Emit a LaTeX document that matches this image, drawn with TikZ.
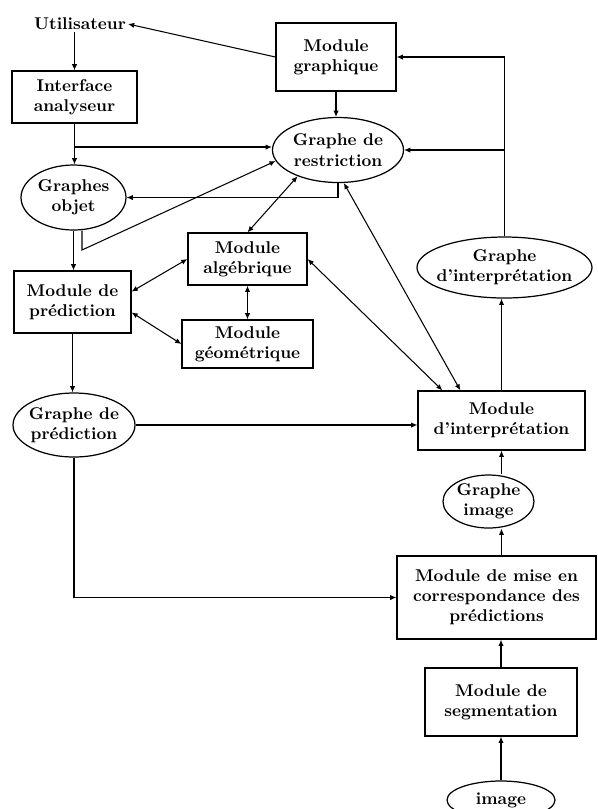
\documentclass[tikz,border=0pt]{standalone}
\usepackage{fontspec}
\usepackage{tikz}
\usetikzlibrary{shapes.geometric,arrows.meta,calc}
\tikzset{
  txt/.style={font=\fontsize{9.7}{11.5}\selectfont\bfseries,align=center},
  boite/.style={txt,draw,rectangle,inner sep=0pt,line width=0.7pt},
  graphe/.style={txt,draw,ellipse,inner sep=-4pt,line width=0.7pt},
  fleche/.style={line width=0.6pt,-{Latex[length=3.5pt,width=3pt]}},
  dfleche/.style={line width=0.6pt,{Latex[length=3.5pt,width=3pt]}-{Latex[length=3.5pt,width=3pt]}}
}

\begin{document}
\begin{tikzpicture}
\useasboundingbox (0,0) rectangle (11.96,-16.18);
% Modules
\node[txt,inner sep=1pt] (util) at (1.6,-0.48) {Utilisateur};
\node[boite,minimum width=2.5cm,minimum height=1.04cm] (iface) at (1.49,-1.94) {Interface\\analyseur};
\node[boite,minimum width=2.4cm,minimum height=1.36cm] (mgraph) at (6.72,-1.14) {Module\\graphique};
\node[boite,minimum width=2.38cm,minimum height=1.04cm] (malg) at (4.95,-5.18) {Module\\algébrique};
\node[boite,minimum width=2.62cm,minimum height=0.96cm] (mgeo) at (4.95,-6.88) {Module\\géométrique};
\node[boite,minimum width=2.34cm,minimum height=1.24cm] (mpred) at (1.45,-6.04) {Module de\\prédiction};
\node[boite,minimum width=3.34cm,minimum height=1.18cm] (minterp) at (10.03,-8.41) {Module\\d'interprétation};
\node[boite,minimum width=3.98cm,minimum height=1.66cm] (mmise) at (9.93,-11.95) {Module de mise en\\correspondance des\\prédictions};
\node[boite,minimum width=3.04cm,minimum height=1.36cm] (mseg) at (10.02,-14.04) {Module de\\segmentation};
% Graphes
\node[graphe,minimum width=2.62cm,minimum height=1.3cm] (grestr) at (6.76,-3.0) {Graphe de\\restriction};
\node[graphe,minimum width=2.1cm,minimum height=1.3cm] (gobj) at (1.47,-3.95) {Graphes\\objet};
\node[graphe,minimum width=2.44cm,minimum height=1.28cm] (gpred) at (1.48,-8.5) {Graphe de\\prédiction};
\node[graphe,minimum width=3.5cm,minimum height=1.22cm] (ginterp) at (10.09,-5.35) {Graphe\\d'interprétation};
\node[graphe,minimum width=1.82cm,minimum height=1.06cm] (gimage) at (9.77,-10.03) {Graphe\\image};
\node[graphe,minimum width=2.16cm,minimum height=0.76cm] (img) at (10.02,-16.0) {image};
% Points de branchement
\coordinate (b1) at (1.49,-2.94);
\coordinate (c1) at (1.64,-5.0);
% Liaisons du haut
\draw[fleche] (util.south -| iface.north) -- (iface.north);
\draw[fleche] (mgraph.west) -- (util.east);
\draw[fleche] (mgraph.south) -- (mgraph.south |- grestr.north);
\draw[fleche] (iface.south) -- (iface.south |- gobj.north);
\draw[fleche] (b1) -- (b1 -| grestr.west);
\draw[fleche] (grestr.south) |- (gobj.east);
\draw[fleche] (gobj.south) -- (gobj.south |- mpred.north);
\draw[fleche] (gobj.south -| c1) -- (c1) -- (grestr.190);
\draw[fleche] (ginterp.north) |- (mgraph.east);
\draw[fleche] (ginterp.north |- grestr.east) -- (grestr.east);
% Liaisons du milieu
\draw[dfleche] (grestr.213) -- (malg.north);
\draw[dfleche] (mpred.10) -- (malg.west);
\draw[dfleche] (mpred.-10) -- (mgeo.west);
\draw[dfleche] (malg.south) -- (mgeo.north);
\draw[dfleche] ($(minterp.north west)+(0.5,0)$) -- (malg.east);
\draw[dfleche] ($(minterp.north west)+(0.86,0)$) -- (grestr.-80);
\draw[fleche] (mpred.south) -- (mpred.south |- gpred.north);
\draw[fleche] (gpred.east) -- (gpred.east -| minterp.west);
\draw[fleche] (gpred.south) |- (mmise.west);
\draw[fleche] (minterp.north) -- (minterp.north |- ginterp.south);
% Liaisons du bas
\draw[fleche] (minterp.south |- gimage.north) -- (minterp.south);
\draw[fleche] (mmise.north -| minterp.south) -- (gimage.south -| minterp.south);
\draw[fleche] (mseg.north) -- (mseg.north |- mmise.south);
\draw[fleche] (img.north) -- (mseg.south);
\end{tikzpicture}
\end{document}
